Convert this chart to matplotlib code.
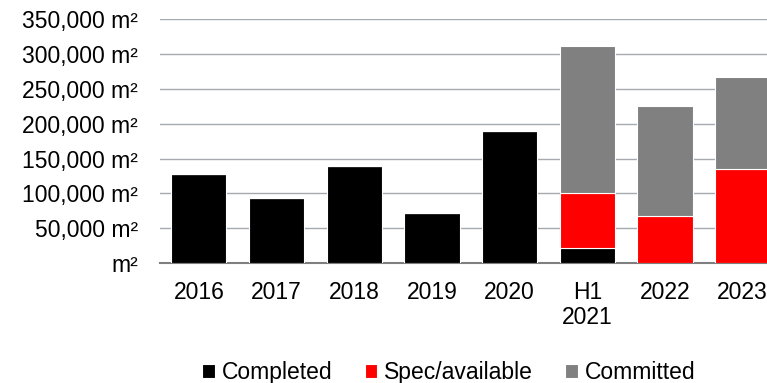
import matplotlib
matplotlib.use("Agg")
import matplotlib.pyplot as plt
from matplotlib.ticker import FuncFormatter

matplotlib.rcParams['font.family'] = ['Liberation Sans', 'DejaVu Sans']

categories = ['2016', '2017', '2018', '2019', '2020', 'H1\n2021', '2022', '2023']
completed = [128000, 93000, 139000, 72000, 190000, 22000, 0, 0]
spec_available = [0, 0, 0, 0, 0, 79000, 67000, 135000]
committed = [0, 0, 0, 0, 0, 211000, 158000, 132000]

COLORS = {'Completed': '#000000', 'Spec/available': '#FF0000', 'Committed': '#808080'}
FONT_SIZE = 16.5


def fmt(v, pos):
  if v == 0:
    return 'm²'
  return '{:,.0f} m²'.format(v)


def draw_figure(filename):
  fig = plt.figure(figsize=(7.67, 3.83), dpi=100)
  ax = fig.add_axes([0.2086, 0.3133, 0.8104, 0.6358])

  x = list(range(len(categories)))
  width = 0.71
  bottom2 = completed
  bottom3 = [a + b for a, b in zip(completed, spec_available)]
  ax.bar(x, completed, width, color=COLORS['Completed'], edgecolor='white', linewidth=0.8, label='Completed', zorder=3)
  ax.bar(x, spec_available, width, bottom=bottom2, color=COLORS['Spec/available'], edgecolor='white', linewidth=0.8, label='Spec/available', zorder=3)
  ax.bar(x, committed, width, bottom=bottom3, color=COLORS['Committed'], edgecolor='white', linewidth=0.8, label='Committed', zorder=3)

  ax.set_xlim(-0.5, len(categories) - 0.5)
  ax.set_ylim(0, 350000)
  ax.set_yticks(range(0, 350001, 50000))
  ax.yaxis.set_major_formatter(FuncFormatter(fmt))
  ax.set_xticks(x)
  ax.set_xticklabels(categories, linespacing=1.12)

  ax.grid(axis='y', color='#A6A9AE', linewidth=1.0, zorder=0)
  for s in ['top', 'right', 'left']:
    ax.spines[s].set_visible(False)
  ax.spines['bottom'].set_color('#7F7F7F')
  ax.spines['bottom'].set_linewidth(1.5)
  ax.tick_params(axis='both', length=0, labelsize=FONT_SIZE, colors='black')
  ax.tick_params(axis='y', pad=16)
  ax.tick_params(axis='x', pad=13)

  fig.legend(loc='center', bbox_to_anchor=(0.585, 0.028), ncol=3, frameon=False,
             fontsize=FONT_SIZE, handlelength=0.55, handleheight=0.55, handletextpad=0.3,
             columnspacing=1.4)

  fig.savefig(filename, dpi=100)


if __name__ == "__main__":
  draw_figure("out.png")
